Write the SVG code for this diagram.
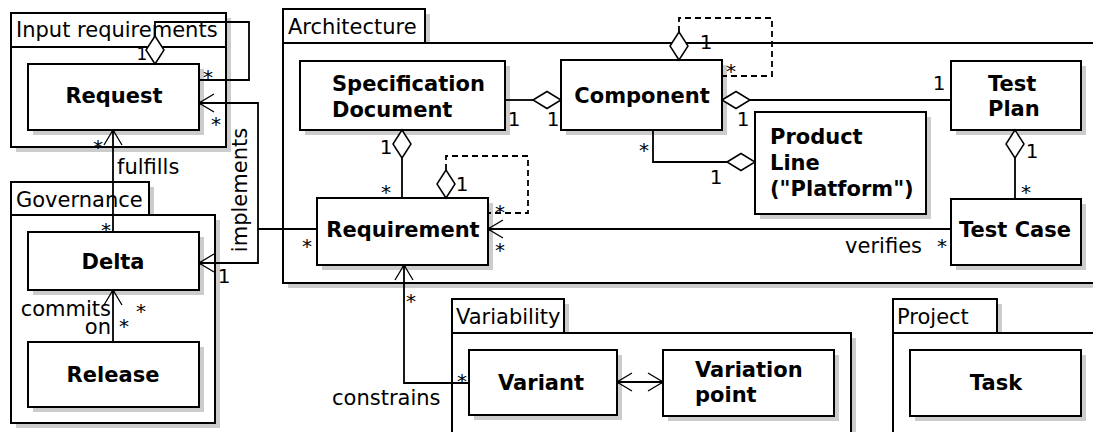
<svg xmlns="http://www.w3.org/2000/svg" width="1093" height="432" viewBox="0 0 1093 432">
<style>
.sh{fill:#cccccc;stroke:none}
.box{fill:#fff;stroke:#000;stroke-width:2}
.name{font-family:"DejaVu Sans",sans-serif;font-weight:bold;font-size:21px;fill:#000}
.lbl{font-family:"DejaVu Sans",sans-serif;font-size:21px;fill:#000}
.m{font-family:"DejaVu Sans",sans-serif;font-size:20px;fill:#000;text-anchor:middle}
.ln{fill:none;stroke:#000;stroke-width:1.8}
.dash{stroke-dasharray:6 4}
.dia{fill:#fff;stroke:#000;stroke-width:1.5}
.arr{fill:none;stroke:#000;stroke-width:1.3}
.mid{text-anchor:middle}
</style>
<rect width="1093" height="432" fill="#fff"/>

<!-- packages -->
<g id="pkg-input">
<rect class="sh" x="16" y="18" width="215" height="134"/>
<rect class="box" x="11" y="47" width="215" height="100"/>
<rect class="box" x="11" y="13" width="215" height="34"/>
<text class="lbl" x="16" y="37">Input requirements</text>
</g>
<g id="pkg-governance">
<rect class="sh" x="16" y="187" width="138" height="33"/>
<rect class="sh" x="16" y="220" width="204" height="208"/>
<rect class="box" x="11" y="215" width="204" height="208"/>
<rect class="box" x="11" y="182" width="138" height="33"/>
<text class="lbl" x="16" y="207">Governance</text>
</g>
<g id="pkg-architecture">
<rect class="sh" x="288" y="14" width="142" height="34"/>
<rect class="sh" x="288" y="48" width="830" height="240"/>
<rect class="box" x="283" y="43" width="830" height="240"/>
<rect class="box" x="283" y="9" width="142" height="34"/>
<text class="lbl" x="288" y="34">Architecture</text>
</g>
<g id="pkg-variability">
<rect class="sh" x="457" y="304" width="112" height="34"/>
<rect class="sh" x="457" y="338" width="399" height="110"/>
<rect class="box" x="452" y="333" width="399" height="110"/>
<rect class="box" x="452" y="299" width="112" height="34"/>
<text class="lbl" x="456" y="324">Variability</text>
</g>
<g id="pkg-project">
<rect class="sh" x="898" y="304" width="104" height="34"/>
<rect class="sh" x="898" y="338" width="220" height="110"/>
<rect class="box" x="893" y="333" width="220" height="110"/>
<rect class="box" x="893" y="299" width="104" height="34"/>
<text class="lbl" x="897" y="324">Project</text>
</g>

<!-- classes -->
<g id="request">
<rect class="sh" x="33" y="69" width="171" height="66"/>
<rect class="box" x="28" y="64" width="171" height="66"/>
<text class="name mid" x="114" y="103">Request</text>
</g>
<g id="delta">
<rect class="sh" x="33" y="237" width="171" height="58"/>
<rect class="box" x="28" y="232" width="171" height="58"/>
<text class="name mid" x="113" y="269">Delta</text>
</g>
<g id="release">
<rect class="sh" x="33" y="347" width="171" height="65"/>
<rect class="box" x="28" y="342" width="171" height="65"/>
<text class="name mid" x="113" y="382">Release</text>
</g>
<g id="specification-document">
<rect class="sh" x="305" y="66" width="205" height="69"/>
<rect class="box" x="300" y="61" width="205" height="69"/>
<text class="name" x="332" y="91">Specification</text>
<text class="name" x="332" y="117">Document</text>
</g>
<g id="component">
<rect class="sh" x="566" y="65" width="161" height="70"/>
<rect class="box" x="561" y="60" width="161" height="70"/>
<text class="name mid" x="642" y="103">Component</text>
</g>
<g id="test-plan">
<rect class="sh" x="956" y="66" width="130" height="69"/>
<rect class="box" x="951" y="61" width="130" height="69"/>
<text class="name" x="988" y="91">Test</text>
<text class="name" x="988" y="116">Plan</text>
</g>
<g id="product-line">
<rect class="sh" x="760" y="117" width="171" height="102"/>
<rect class="box" x="755" y="112" width="171" height="102"/>
<text class="name" x="770" y="144">Product</text>
<text class="name" x="770" y="170">Line</text>
<text class="name" x="770" y="196">("Platform")</text>
</g>
<g id="requirement">
<rect class="sh" x="322" y="203" width="171" height="67"/>
<rect class="box" x="317" y="198" width="171" height="67"/>
<text class="name mid" x="403" y="237">Requirement</text>
</g>
<g id="test-case">
<rect class="sh" x="956" y="204" width="130" height="66"/>
<rect class="box" x="951" y="199" width="130" height="66"/>
<text class="name mid" x="1015" y="237">Test Case</text>
</g>
<g id="variant">
<rect class="sh" x="474" y="355" width="148" height="65"/>
<rect class="box" x="469" y="350" width="148" height="65"/>
<text class="name mid" x="541" y="390">Variant</text>
</g>
<g id="variation-point">
<rect class="sh" x="668" y="355" width="171" height="66"/>
<rect class="box" x="663" y="350" width="171" height="66"/>
<text class="name" x="695" y="377">Variation</text>
<text class="name" x="695" y="402">point</text>
</g>
<g id="task">
<rect class="sh" x="915" y="355" width="171" height="66"/>
<rect class="box" x="910" y="350" width="171" height="66"/>
<text class="name mid" x="996" y="390">Task</text>
</g>

<!-- connectors -->
<g id="connectors">
<!-- Request self aggregation -->
<path class="ln" d="M155,36 V22 H249 V80 H199"/>
<path class="dia" d="M155,36 L164,50 L155,64 L146,50 Z"/>
<text class="m" x="142" y="60" style="font-size:17px">1</text>
<text class="m" x="208" y="84">*</text>

<!-- fulfills -->
<path class="ln" d="M113,232 V130"/>
<path class="arr" d="M104,145 L113,130 L122,145"/>
<circle cx="113" cy="131" r="1.8"/>
<text class="lbl" x="117" y="174">fulfills</text>
<text class="m" x="98" y="154">*</text>
<text class="m" x="106" y="237">*</text>

<!-- commits on -->
<path class="ln" d="M113,342 V290"/>
<path class="arr" d="M104,305 L113,290 L122,305"/>
<circle cx="113" cy="291" r="1.8"/>
<text class="lbl" x="111" y="316" text-anchor="end">commits</text>
<text class="lbl" x="111" y="334" text-anchor="end">on</text>
<text class="m" x="141" y="318">*</text>
<text class="m" x="124" y="333">*</text>

<!-- implements -->
<path class="ln" d="M199,103 H258 V263 H199"/>
<path class="ln" d="M317,229 H258"/>
<path class="arr" d="M214,94 L199,103 L214,112"/>
<path class="arr" d="M214,254 L199,263 L214,272"/>
<circle cx="200" cy="103" r="1.8"/>
<circle cx="200" cy="263" r="1.8"/>
<text class="lbl mid" transform="translate(247,190) rotate(-90)">implements</text>
<text class="m" x="216" y="131">*</text>
<text class="m" x="224" y="283">1</text>
<text class="m" x="307" y="253">*</text>

<!-- Specification Document - Component -->
<path class="ln" d="M505,100 H533"/>
<path class="dia" d="M533,100 L547,91.5 L561,100 L547,108.5 Z"/>
<text class="m" x="514" y="126">1</text>
<text class="m" x="553" y="126">1</text>

<!-- Component - Test Plan -->
<path class="ln" d="M750,100 H951"/>
<path class="dia" d="M722,100 L736,91.5 L750,100 L736,108.5 Z"/>
<text class="m" x="743" y="126">1</text>
<text class="m" x="939" y="90">1</text>

<!-- Component self aggregation -->
<path class="ln dash" d="M679,32 V18 H772 V76 H722"/>
<path class="dia" d="M679,32 L688,46 L679,60 L670,46 Z"/>
<text class="m" x="706" y="49">1</text>
<text class="m" x="731" y="78">*</text>

<!-- Component - Product Line -->
<path class="ln" d="M653,130 V162 H727"/>
<path class="dia" d="M727,162 L741,153.5 L755,162 L741,170.5 Z"/>
<text class="m" x="644" y="157">*</text>
<text class="m" x="716" y="184">1</text>

<!-- Specification Document - Requirement -->
<path class="ln" d="M402,158 V198"/>
<path class="dia" d="M402,130 L411,144 L402,158 L393,144 Z"/>
<text class="m" x="386" y="154">1</text>
<text class="m" x="386" y="199">*</text>

<!-- Requirement self aggregation -->
<path class="ln dash" d="M446,170 V156 H528 V213 H488"/>
<path class="dia" d="M446,170 L455,184 L446,198 L437,184 Z"/>
<text class="m" x="462" y="191">1</text>
<text class="m" x="500" y="219">*</text>

<!-- verifies -->
<path class="ln" d="M951,229 H488"/>
<path class="arr" d="M503,220 L488,229 L503,238"/>
<circle cx="489" cy="229" r="1.8"/>
<text class="lbl" x="922" y="253" text-anchor="end">verifies</text>
<text class="m" x="500" y="257">*</text>
<text class="m" x="942" y="253">*</text>

<!-- Test Plan - Test Case -->
<path class="ln" d="M1015,158 V199"/>
<path class="dia" d="M1015,130 L1024,144 L1015,158 L1006,144 Z"/>
<text class="m" x="1032" y="158">1</text>
<text class="m" x="1026" y="199">*</text>

<!-- constrains -->
<path class="ln" d="M469,383 H404 V265"/>
<path class="arr" d="M395,280 L404,265 L413,280"/>
<circle cx="404" cy="266" r="1.8"/>
<text class="lbl" x="332" y="405">constrains</text>
<text class="m" x="411" y="308">*</text>
<text class="m" x="462" y="388">*</text>

<!-- Variant - Variation point -->
<path class="ln" d="M617,382 H663"/>
<path class="arr" d="M632,373 L617,382 L632,391"/>
<path class="arr" d="M648,373 L663,382 L648,391"/>
<circle cx="618" cy="382" r="1.8"/>
<circle cx="662" cy="382" r="1.8"/>
</g>
</svg>
